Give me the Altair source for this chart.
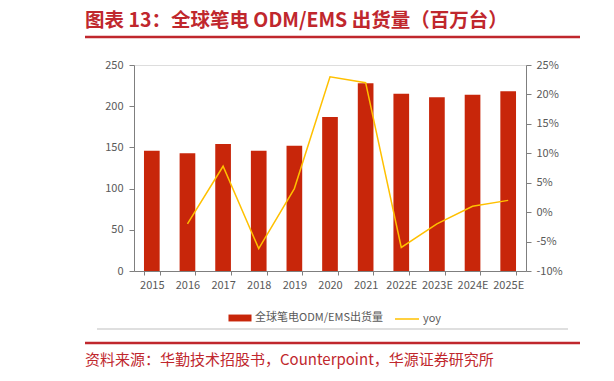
import altair as alt
import pandas as pd

years = ["2015", "2016", "2017", "2018", "2019", "2020", "2021", "2022E", "2023E", "2024E", "2025E"]
shipments = [146, 143, 154, 146, 152, 187, 228, 215, 211, 214, 218]
yoy = [None, -2.0, 7.8, -6.2, 4.0, 23.0, 22.0, -6.0, -2.0, 1.0, 2.0]

bar_name = "全球笔电ODM/EMS出货量"
line_name = "yoy"
title_text = "图表 13：全球笔电 ODM/EMS 出货量（百万台）"
source_text = "资料来源：华勤技术招股书，Counterpoint，华源证券研究所"

RED = "#C0272D"
BAR = "#C8260A"
LINE = "#FFC000"
AXIS = "#7F7F7F"
LABEL = "#595959"
FONT = "Noto Sans CJK SC"

df = pd.DataFrame({"year": years, "ship": shipments, "yoy": yoy})
one = pd.DataFrame({"t": [title_text], "s": [source_text]})

x = alt.X("year:N", sort=years, title=None,
          scale=alt.Scale(paddingInner=0.56, paddingOuter=0.28),
          axis=alt.Axis(labelAngle=0, tickBand="extent", domainColor=AXIS, tickColor=AXIS,
                        labelColor=LABEL, labelFontSize=11, labelFont=FONT, tickSize=4,
                        labelPadding=4))

bars = alt.Chart(df).mark_bar(color=BAR).encode(
    x=x,
    y=alt.Y("ship:Q", title=None, scale=alt.Scale(domain=[0, 250]),
            axis=alt.Axis(values=[0, 50, 100, 150, 200, 250], grid=False, domainColor=AXIS,
                          tickColor=AXIS, labelColor=LABEL, labelFontSize=11, labelFont=FONT,
                          tickSize=5, labelPadding=6)),
    fill=alt.Fill("n:N", scale=alt.Scale(domain=[bar_name], range=[BAR]),
                  legend=alt.Legend(title=None, orient="none", legendX=94, legendY=241,
                                    symbolType="M-1,-0.3H1V0.3H-1Z", symbolSize=530,
                                    labelFontSize=11, labelFont=FONT, labelColor=LABEL,
                                    labelOffset=3, symbolStrokeWidth=0)),
).transform_calculate(n=f"'{bar_name}'")

line = alt.Chart(df).mark_line(strokeWidth=1.5).encode(
    x=alt.X("year:N", sort=years),
    y=alt.Y("yoy:Q", title=None, scale=alt.Scale(domain=[-10, 25]),
            axis=alt.Axis(orient="right", values=[-10, -5, 0, 5, 10, 15, 20, 25], grid=False,
                          labelExpr="datum.value + '%'", domainColor=AXIS, tickColor=AXIS,
                          labelColor=LABEL, labelFontSize=11, labelFont=FONT, tickSize=5,
                          labelPadding=5)),
    stroke=alt.Stroke("n:N", scale=alt.Scale(domain=[line_name], range=[LINE]),
                      legend=alt.Legend(title=None, orient="none", legendX=260, legendY=241,
                                        symbolType="stroke", symbolSize=576,
                                        symbolStrokeWidth=1.5, labelOffset=3,
                                        labelFontSize=11, labelFont=FONT, labelColor=LABEL)),
).transform_filter("isValid(datum.yoy)").transform_calculate(n=f"'{line_name}'")

title = alt.Chart(one).mark_text(align="left", baseline="middle", fontSize=19.5,
                                 fontWeight="bold", color=RED, font=FONT).encode(
    text="t:N", x=alt.value(-49), y=alt.value(-44))

source = alt.Chart(one).mark_text(align="left", baseline="middle", fontSize=15,
                                  color=RED, font=FONT).encode(
    text="s:N", x=alt.value(-49), y=alt.value(295))

rule_top = alt.Chart(one).mark_rule(color=RED, strokeWidth=2.5).encode(
    x=alt.value(-49), x2=alt.value(446), y=alt.value(-28))
rule_bot = alt.Chart(one).mark_rule(color=RED, strokeWidth=2.5).encode(
    x=alt.value(-49), x2=alt.value(446), y=alt.value(278))
rule_gray = alt.Chart(one).mark_rule(color="#BFBFBF", strokeWidth=1).encode(
    x=alt.value(-37), x2=alt.value(434), y=alt.value(264))

chart = alt.layer(bars, line, title, source, rule_top, rule_bot, rule_gray).resolve_scale(
    y="independent"
).properties(
    width=392, height=206,
    autosize=alt.AutoSizeParams(type="none"),
    padding={"left": 126, "top": 57, "right": 80, "bottom": 102},
).configure_view(stroke=None).configure(background="white")

chart.save("out.html", embed_options={"renderer": "svg", "actions": False})
